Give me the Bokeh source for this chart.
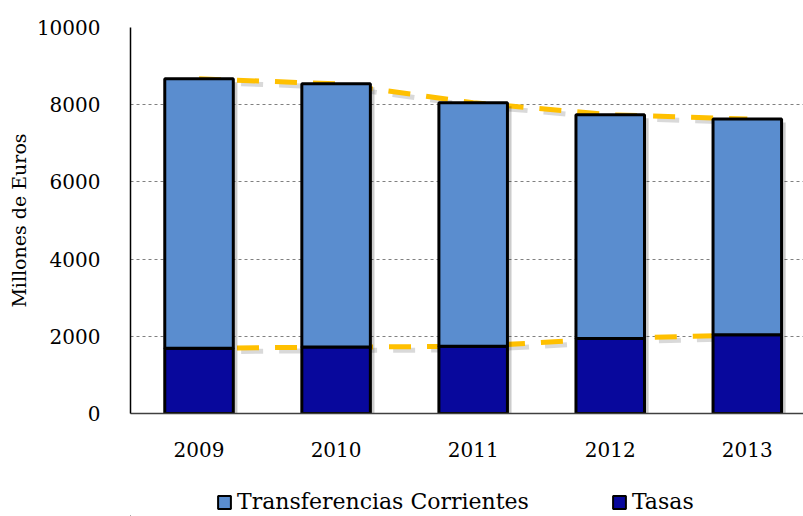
from bokeh.plotting import figure
from bokeh.models import Range1d, Legend, LegendItem, FixedTicker, ColumnDataSource
from bokeh.layouts import column
from bokeh.embed import file_html
from bokeh.resources import INLINE

years = ["2009", "2010", "2011", "2012", "2013"]
tasas = [1690, 1720, 1740, 1940, 2040]
transferencias = [6980, 6820, 6310, 5800, 5590]
series_names = ["Transferencias Corrientes", "Tasas"]
series_colors = ["#5A8DCF", "#08089C"]

idx = list(range(len(years)))
totals = [a + b for a, b in zip(tasas, transferencias)]

src = ColumnDataSource(dict(
    x=idx,
    xs=[i + 0.03 for i in idx],
    tasas=tasas,
    totals=totals,
    shadow_top=[t - 90 for t in totals],
))

FONT = "DejaVu Serif"

p = figure(width=803, height=470, output_backend="svg", toolbar_location=None,
           x_range=Range1d(-0.5, 4.41), y_range=Range1d(0, 10000),
           min_border_left=130, min_border_right=0, min_border_top=27, min_border_bottom=57)
p.outline_line_color = None
p.background_fill_color = "white"

# line series (behind bars)
p.line(x=[i + 0.03 for i in idx], y=[t - 90 for t in totals], line_color="#000000", line_alpha=0.15,
       line_width=5, line_dash="22 16")
p.line(x=[i + 0.03 for i in idx], y=[t - 90 for t in tasas], line_color="#000000", line_alpha=0.15,
       line_width=5, line_dash="22 16")
p.line(x="x", y="totals", source=src, line_color="#FFC000", line_width=5, line_dash="22 16")
p.line(x="x", y="tasas", source=src, line_color="#FFC000", line_width=5, line_dash="22 16")

# shadows
p.vbar(x="xs", top="shadow_top", bottom=-200, width=0.5, source=src,
       fill_color="#000000", fill_alpha=0.2, line_color=None)

p.vbar(x="x", top="tasas", bottom=0, width=0.5, source=src,
       fill_color=series_colors[1], line_color="black", line_width=3)
p.vbar(x="x", top="totals", bottom="tasas", width=0.5, source=src,
       fill_color=series_colors[0], line_color="black", line_width=3)

# axes
p.xaxis.ticker = FixedTicker(ticks=idx)
p.xaxis.major_label_overrides = {i: y for i, y in zip(idx, years)}
p.xaxis.major_tick_line_color = None
p.xaxis.minor_tick_line_color = None
p.xaxis.axis_line_color = "#404040"
p.xaxis.axis_line_width = 1.5
p.xaxis.major_label_standoff = 22
p.xaxis.major_label_text_font = FONT
p.xaxis.major_label_text_font_size = "20px"
p.xaxis.major_label_text_color = "black"

p.yaxis.ticker = FixedTicker(ticks=[0, 2000, 4000, 6000, 8000, 10000])
p.yaxis.major_tick_line_color = None
p.yaxis.minor_tick_line_color = None
p.yaxis.axis_line_color = "black"
p.yaxis.axis_line_width = 1.5
p.yaxis.major_label_standoff = 24
p.yaxis.major_label_text_font = FONT
p.yaxis.major_label_text_font_size = "20px"
p.yaxis.major_label_text_color = "black"
p.yaxis.axis_label = "Millones de Euros"
p.yaxis.axis_label_text_font = FONT
p.yaxis.axis_label_text_font_size = "19px"
p.yaxis.axis_label_text_font_style = "normal"
p.yaxis.axis_label_text_color = "black"
p.yaxis.axis_label_standoff = 4

p.xgrid.grid_line_color = None
p.ygrid.grid_line_color = "#808080"
p.ygrid.grid_line_dash = "3 3"
p.ygrid.grid_line_width = 1

# legend strip (swatch renderers sit outside the visible range)
lg = figure(width=803, height=46, output_backend="svg", toolbar_location=None,
            x_range=Range1d(0, 1), y_range=Range1d(0, 1),
            min_border_left=0, min_border_right=0, min_border_top=0, min_border_bottom=0)
lg.axis.visible = False
lg.grid.visible = False
lg.outline_line_color = None
items = []
for name, col in zip(series_names, series_colors):
    r = lg.vbar(x=[-5], top=[-5], bottom=[-6], width=0.5, fill_color=col,
                line_color="black", line_width=2)
    items.append(LegendItem(label=name, renderers=[r]))
legend = Legend(items=items, orientation="horizontal", location=(86, 2))
legend.label_text_font = FONT
legend.label_text_font_size = "22px"
legend.label_text_color = "black"
legend.glyph_width = 16
legend.glyph_height = 16
legend.label_standoff = 5
legend.spacing = 82
legend.border_line_color = None
legend.background_fill_alpha = 0
legend.padding = 0
legend.margin = 0
lg.add_layout(legend, "center")

layout = column(p, lg, spacing=0)
open("out.html", "w").write(file_html(layout, INLINE))
